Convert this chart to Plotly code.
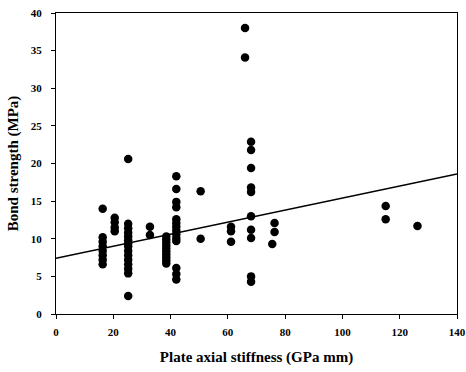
import plotly.graph_objects as go
import numpy as np

# Plate axial stiffness (GPa mm) and bond strength (MPa), read per column
stiffness = ([16.3] * 8 + [20.5] * 4 + [25.2] * 15 + [32.8] * 2 + [38.5] * 10 +
             [42.0] * 14 + [50.5] * 2 + [61.1] * 3 + [66.0] * 2 + [68.1] * 10 +
             [76.3, 76.3, 75.5] + [115.1] * 2 + [126.2])
strength = ([14.0, 10.2, 9.6, 9.0, 8.4, 7.8, 7.2, 6.6] +
            [12.8, 12.2, 11.5, 11.0] +
            [20.6, 12.0, 11.4, 10.8, 10.3, 9.8, 9.4, 9.0, 8.4, 7.8, 7.2, 6.6, 6.0, 5.4, 2.4] +
            [11.6, 10.5] +
            [10.3, 9.9, 9.5, 9.1, 8.7, 8.3, 7.9, 7.5, 7.1, 6.7] +
            [18.3, 16.6, 14.9, 14.2, 12.6, 12.1, 11.6, 11.1, 10.6, 10.1, 9.7, 6.1, 5.3, 4.6] +
            [16.3, 10.0] +
            [11.6, 11.0, 9.6] +
            [38.0, 34.1] +
            [22.9, 21.8, 19.4, 16.8, 16.2, 13.0, 11.2, 10.1, 5.0, 4.3] +
            [12.1, 10.9, 9.3] +
            [14.35, 12.6] +
            [11.7])

# Linear trend line coefficients (as drawn)
trend_intercept = 7.4
trend_slope = 0.08
trend_x = [0, 140]

x_ticks = [0, 20, 40, 60, 80, 100, 120, 140]
y_ticks = [0, 5, 10, 15, 20, 25, 30, 35, 40]

trend_y = [trend_intercept + trend_slope * v for v in trend_x]

fig = go.Figure()
fig.add_trace(go.Scatter(x=trend_x, y=trend_y, mode="lines",
                         line=dict(color="black", width=1.6), hoverinfo="skip"))
fig.add_trace(go.Scatter(x=stiffness, y=strength, mode="markers",
                         marker=dict(color="black", size=8.5)))

font_fam = "Liberation Serif, Times New Roman, serif"
fig.update_layout(
    width=466, height=372,
    margin=dict(l=56, r=9, t=13, b=58),
    paper_bgcolor="white", plot_bgcolor="white",
    showlegend=False,
    font=dict(family=font_fam, color="black"),
    xaxis=dict(range=[0, 140], tickvals=x_ticks, ticks="outside", ticklen=4,
               tickcolor="black", showline=True, linecolor="black", linewidth=1,
               mirror=True, showgrid=False, zeroline=False, automargin=False,
               tickfont=dict(family=font_fam, size=11, color="black", weight="bold"),
               ticklabelstandoff=4,
               title=dict(text="<b>Plate axial stiffness (GPa mm)</b>",
                          font=dict(family=font_fam, size=15, color="black"),
                          standoff=14)),
    yaxis=dict(range=[0, 40], tickvals=y_ticks, ticks="outside", ticklen=4,
               tickcolor="black", showline=True, linecolor="black", linewidth=1,
               mirror=True, showgrid=False, zeroline=False, automargin=False,
               tickfont=dict(family=font_fam, size=11, color="black", weight="bold"),
               ticklabelstandoff=7,
               title=dict(text="<b>Bond strength (MPa)</b>",
                          font=dict(family=font_fam, size=15, color="black"),
                          standoff=8)),
)
fig.write_html("out.html", config={"displayModeBar": False},
               post_script="document.body.style.margin='0px';document.body.style.padding='0px';")
